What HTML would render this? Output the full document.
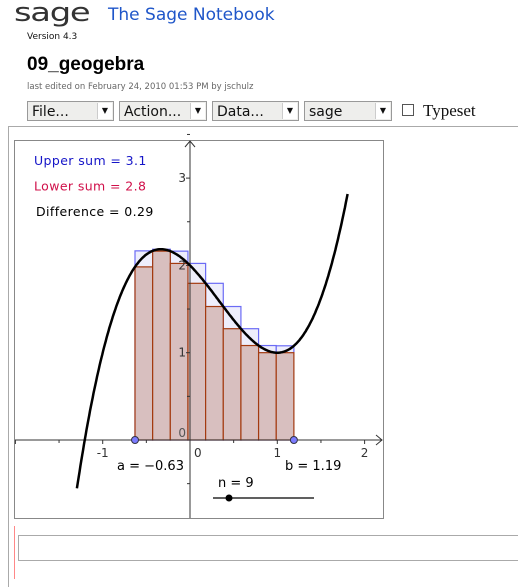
<!DOCTYPE html>
<html><head><meta charset="utf-8"><style>
body{margin:0;width:518px;height:579px;background:#fff;position:relative;overflow:hidden;font-family:"DejaVu Sans","Liberation Sans",sans-serif}
.abs{position:absolute}
.dd{position:absolute;top:101px;height:20px;border:1px solid #999;background:#eeeeec;font-size:14px;line-height:20px;box-sizing:border-box;padding-left:4px;color:#111}
.dd .arr{position:absolute;right:1px;top:1px;width:14px;height:16px;background:#fff;border-left:1px solid #ccc;font-size:8px;text-align:center;line-height:16px}
</style></head><body>
<div class="abs" style="left:14px;top:-2px;font:26px 'DejaVu Sans',sans-serif;letter-spacing:-1px;transform:scaleX(1.3);transform-origin:left;color:#333">sage</div>
<div class="abs" style="left:108px;top:5px;font-size:17px;color:#1f56c9">The Sage Notebook</div>
<div class="abs" style="left:27px;top:32px;font-size:9px;color:#111">Version 4.3</div>
<div class="abs" style="left:27px;top:54px;font:bold 19px 'Liberation Sans',sans-serif;color:#000">09_geogebra</div>
<div class="abs" style="left:27px;top:82px;font-size:8.5px;color:#666">last edited on February 24, 2010 01:53 PM by jschulz</div>
<div class="dd" style="left:27px;width:87px">File...<span class="arr">▼</span></div>
<div class="dd" style="left:119px;width:88px">Action...<span class="arr">▼</span></div>
<div class="dd" style="left:212px;width:87px">Data...<span class="arr">▼</span></div>
<div class="dd" style="left:304px;width:88px">sage<span class="arr">▼</span></div>
<div class="abs" style="left:402px;top:104px;width:10px;height:10px;border:1px solid #555;background:#fff"></div>
<div class="abs" style="left:423px;top:101px;font:17px 'Liberation Serif',serif;color:#111">Typeset</div>
<div class="abs" style="left:8px;top:126px;width:520px;height:460px;border-left:1px solid #aaa;border-top:1px solid #aaa"></div>
<div class="abs" style="left:14px;top:526px;width:1px;height:53px;background:#f88"></div>
<div class="abs" style="left:18px;top:535px;width:510px;height:26px;border:1px solid #aaa;box-sizing:border-box"></div>

<svg class="abs" style="left:0;top:0" width="518" height="579">
<rect x="14.5" y="140.5" width="369" height="378" fill="#fff" stroke="#888"/>
<g id="g"></g>
</svg>
<script>
const coeffs=[1,-1,-1,2]; // f(x)=x^3-x^2-x+2
const aVal=-0.63, bVal=1.19, nVal=9;
const xTicks=[-1,0,1,2], yTicks=[1,2,3];
const labels=["Upper sum = 3.1","Lower sum = 2.8","Difference = 0.29"];
const X0=190,Y0=440,U=87.3;
const sx=x=>X0+x*U, sy=y=>Y0-y*U;
const f=x=>((coeffs[0]*x+coeffs[1])*x+coeffs[2])*x+coeffs[3];
const g=document.getElementById('g'),NS='http://www.w3.org/2000/svg';
function mk(t,at,txt){const e=document.createElementNS(NS,t);for(const k in at)e.setAttribute(k,at[k]);if(txt!=null)e.textContent=txt;g.appendChild(e);return e;}
const w=(bVal-aVal)/nVal;
const crit=[-1/3,1];
for(let i=0;i<nVal;i++){
 const l=aVal+i*w,r=l+w;const vals=[f(l),f(r)];crit.forEach(c=>{if(c>l&&c<r)vals.push(f(c));});
 const hi=Math.max(...vals);
 let e=mk('rect',{x:sx(l),y:sy(hi),width:w*U,height:hi*U,fill:'#eeeefc',stroke:'#6b6bf5','stroke-width':1.2});
 
 
}
for(let i=0;i<nVal;i++){
 const l=aVal+i*w,r=l+w;const vals=[f(l),f(r)];crit.forEach(c=>{if(c>l&&c<r)vals.push(f(c));});
 const lo=Math.min(...vals);
 let e=mk('rect',{x:sx(l),y:sy(lo),width:w*U,height:lo*U,fill:'#d8bfbf',stroke:'#a33a10','stroke-width':1.2});
 
 
}
let ax=mk('path',{d:`M15 ${Y0}H382M376 ${Y0-5}L382 ${Y0}L376 ${Y0+5}`,stroke:'#333',fill:'none'});


let ay=mk('path',{d:`M${X0} 518V141M${X0-5} 147L${X0} 141L${X0+5} 147`,stroke:'#333',fill:'none'});


for(let v=-2;v<=2.1;v+=0.5){if(Math.abs(v)<0.01)continue;let t=mk('line',{x1:sx(v),x2:sx(v),y1:Y0,y2:Y0+(Number.isInteger(v)?4:3),stroke:'#333'});
 
 }
for(let v=-0.5;v<=3.6;v+=0.5){if(Math.abs(v)<0.01)continue;let t=mk('line',{x1:X0-(Number.isInteger(v)?4:3),x2:X0,y1:sy(v),y2:sy(v),stroke:'#333'});
 
 }
xTicks.forEach(v=>{let t=mk('text',{x:sx(v)+(v===0?4:0),y:Y0+17,'font-size':12,fill:'#333','text-anchor':v===0?'start':'middle'},String(v));
 
 });
yTicks.forEach(v=>{let t=mk('text',{x:X0-4,y:sy(v)+4,'font-size':12,fill:'#333','text-anchor':'end'},String(v));
 
 });
let z=mk('text',{x:X0-4,y:Y0-3,'font-size':12,fill:'#555','text-anchor':'end'},'0');


let d='';for(let x=-1.295;x<=1.81;x+=0.01){d+=(d?'L':'M')+sx(x).toFixed(1)+' '+sy(f(x)).toFixed(1);}
let c=mk('path',{d,stroke:'#000','stroke-width':2.5,fill:'none'});


[[aVal,'point-a'],[bVal,'point-b']].forEach(p=>{let e=mk('circle',{cx:sx(p[0]),cy:Y0,r:3.5,fill:'#7b7bff',stroke:'#334'});
 
 });
let la=mk('text',{x:117,y:470,'font-size':13,fill:'#000'},'a = \u22120.63');


let lb=mk('text',{x:285,y:470,'font-size':13,fill:'#000'},'b = 1.19');


let ln=mk('text',{x:218,y:487,'font-size':13,fill:'#000'},'n = 9');


let sl=mk('line',{x1:213,x2:314,y1:498,y2:498,stroke:'#000','stroke-width':1.2});


let sk=mk('circle',{cx:229,cy:498,r:3.5,fill:'#000'});


const cols=['#1515c8','#d0104a','#000'];
labels.forEach((s,i)=>{let t=mk('text',{x:i===2?36:34,y:165+i*25.5,'font-size':12.5,fill:cols[i],'letter-spacing':0.4},s);
 
 });
</script>
</body></html>
